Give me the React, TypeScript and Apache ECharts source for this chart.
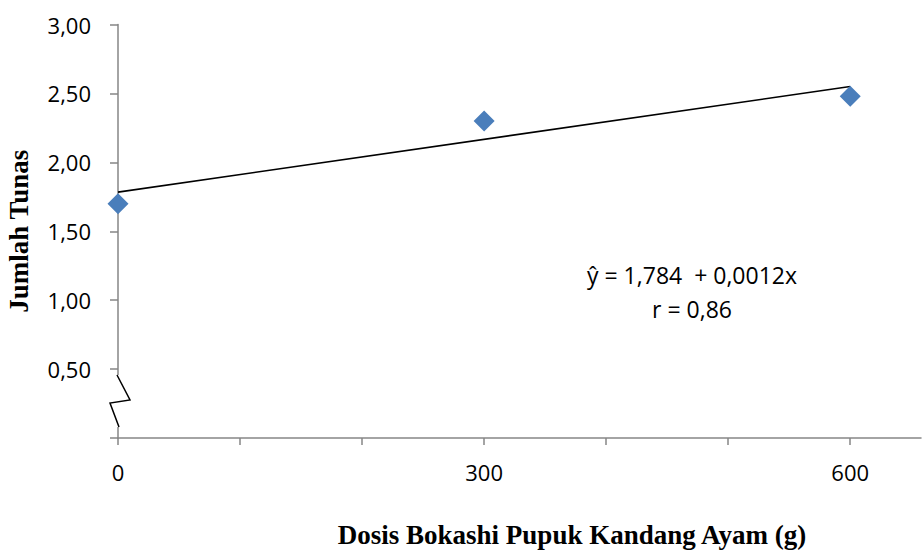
import React, { useEffect, useRef } from "react";
import * as echarts from "echarts";

const xValues = [0, 300, 600];
const yValues = [1.7, 2.3, 2.48];
const trendX = [0, 600];
const trendY = [1.784, 2.55];
const xTicks = [0, 100, 200, 300, 400, 500, 600];
const xTickLabels = [0, 300, 600];
const yTicks = [0, 0.5, 1, 1.5, 2, 2.5, 3];
const yTickLabels = [0.5, 1, 1.5, 2, 2.5, 3];
const breakRange = [0.457, 0.08];
const xTitle = "Dosis Bokashi Pupuk Kandang Ayam (g)";
const yTitle = "Jumlah Tunas";
const equationLines = ["ŷ = 1,784  + 0,0012x", "r = 0,86"];

export default function App() {
  const ref = useRef<HTMLDivElement>(null);
  useEffect(() => {
    document.body.style.margin = "0";
    const chart = echarts.init(ref.current!, null, { renderer: "svg" });
    const axisColor = "#868686";
    const labelFont = "'Open Sans', sans-serif";
    chart.setOption({
      animation: false,
      backgroundColor: "#ffffff",
      grid: { left: 118, right: 1, top: 24.5, bottom: 115, outerBoundsMode: "none" },
      xAxis: {
        type: "value",
        min: 0,
        max: 658,
        interval: 100,
        splitLine: { show: false },
        axisLine: { lineStyle: { color: axisColor, width: 1.5 } },
        axisTick: { length: 7, customValues: xTicks, lineStyle: { color: axisColor, width: 1.5 } },
        axisLabel: {
          customValues: xTickLabels,
          margin: 23,
          fontSize: 22,
          fontFamily: labelFont,
          color: "#000",
        },
      },
      yAxis: {
        type: "value",
        min: 0,
        max: 3,
        interval: 0.5,
        splitLine: { show: false },
        axisLine: { show: true, lineStyle: { color: axisColor, width: 1.5 } },
        axisTick: { show: true, length: 8, customValues: yTicks, lineStyle: { color: axisColor, width: 1.5 } },
        axisLabel: {
          customValues: yTickLabels,
          margin: 27,
          fontSize: 22,
          fontFamily: labelFont,
          color: "#000",
          formatter: (v: number) => v.toFixed(2).replace(".", ","),
        },
        name: yTitle,
        nameLocation: "middle",
        nameGap: 86,
        nameTextStyle: {
          fontFamily: "'Liberation Serif', 'Times New Roman', serif",
          fontWeight: "bold",
          fontSize: 27,
          color: "#000",
        },
      },
      graphic: [
        {
          type: "text",
          x: 572,
          y: 535,
          style: {
            text: xTitle,
            font: "bold 27px 'Liberation Serif', 'Times New Roman', serif",
            fill: "#000",
            textAlign: "center",
            textVerticalAlign: "middle",
          },
        },
        {
          type: "text",
          x: 692,
          y: 292,
          style: {
            text: equationLines.join("\n"),
            font: "23px 'Open Sans', sans-serif",
            lineHeight: 34,
            fill: "#000",
            textAlign: "center",
            textVerticalAlign: "middle",
          },
        },
      ],
      series: [
        {
          type: "line",
          data: trendX.map((x, i) => [x, trendY[i]]),
          symbol: "none",
          lineStyle: { color: "#000", width: 1.6 },
          z: 3,
        },
        {
          type: "scatter",
          data: xValues.map((x, i) => [x, yValues[i]]),
          symbol: "diamond",
          symbolSize: 21,
          itemStyle: { color: "#4A7EBB", opacity: 1 },
          z: 4,
        },
        {
          type: "custom",
          silent: true,
          clip: false,
          z: 5,
          encode: { x: 0, y: [1, 2] },
          data: [[0, breakRange[0], breakRange[1]]],
          renderItem: (params: any, api: any) => {
            const top = api.coord([api.value(0), api.value(1)]);
            const bot = api.coord([api.value(0), api.value(2)]);
            const h = bot[1] - top[1];
            return {
              type: "group",
              children: [
                {
                  type: "rect",
                  shape: { x: top[0] - 2, y: top[1], width: 4, height: h },
                  style: { fill: "#fff" },
                },
                {
                  type: "polyline",
                  shape: {
                    points: [
                      [top[0] - 1, top[1]],
                      [top[0] + 12, top[1] + h * 0.48],
                      [top[0] - 8, top[1] + h * 0.54],
                      [top[0] + 1, bot[1]],
                    ],
                  },
                  style: { stroke: "#000", lineWidth: 1.5, fill: null },
                },
              ],
            };
          },
        },
      ],
    });
    return () => chart.dispose();
  }, []);
  return <div ref={ref} style={{ width: 922, height: 553 }} />;
}
